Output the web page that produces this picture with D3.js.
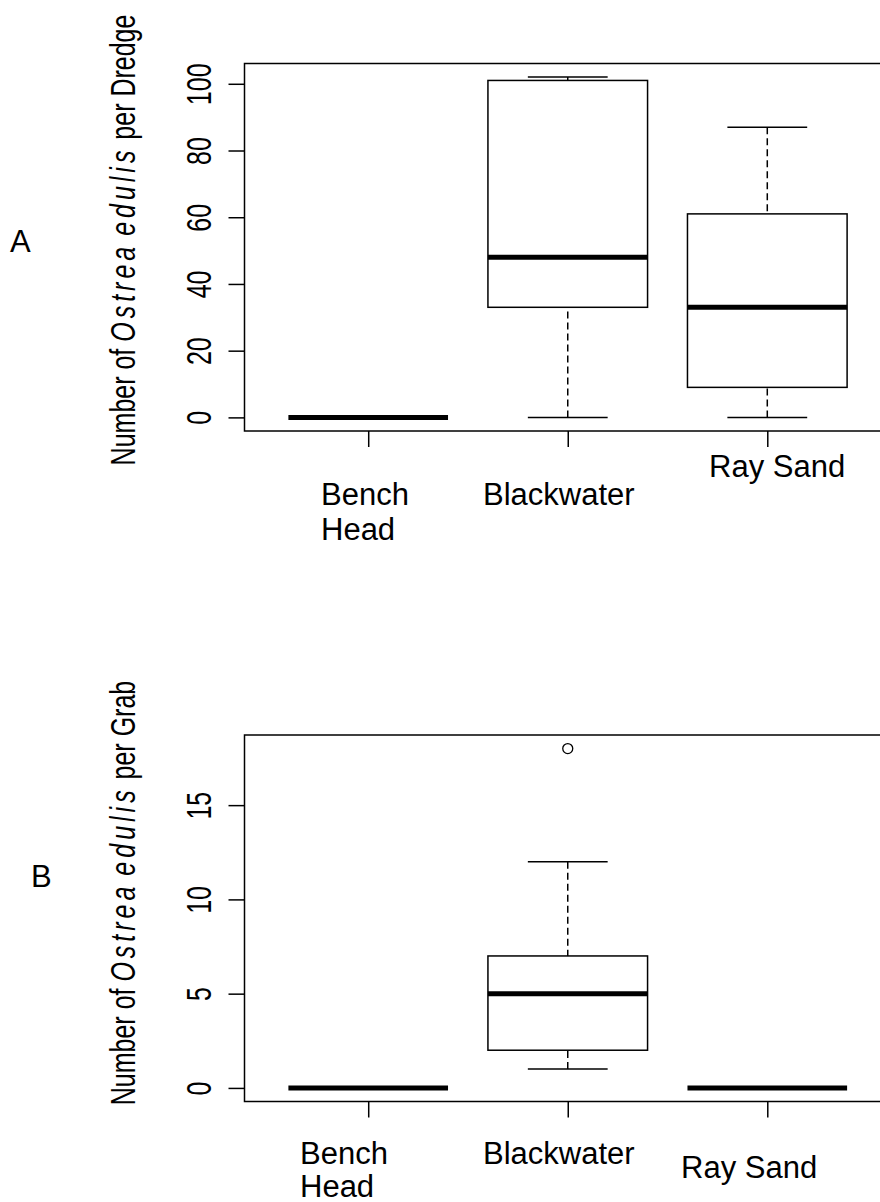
<!DOCTYPE html>
<html>
<head>
<meta charset="utf-8">
<script src="https://cdn.jsdelivr.net/npm/d3@7/dist/d3.min.js"></script>
<style>
    body { margin: 0; background: #fff; }
    svg text { font-family: "Liberation Sans", Arial, sans-serif; fill: #000; }
</style>
</head>
<body>
<div id="chart"></div>
<script>
// Sitios (categorías del eje x)
var sites = ["Bench Head", "Blackwater", "Ray Sand"];
var siteLines = [["Bench", "Head"], ["Blackwater"], ["Ray Sand"]];

// Panel A: ostras por draga (estadísticos del boxplot)
var dredgeLow = [0, 0, 0];
var dredgeQ1 = [0, 33, 9];
var dredgeMedian = [0, 48, 33];
var dredgeQ3 = [0, 101, 61];
var dredgeHigh = [0, 102, 87];
var dredgeOutliers = [[], [], []];
var dredgeTicks = [0, 20, 40, 60, 80, 100];

// Panel B: ostras por muestra (grab)
var grabLow = [0, 1, 0];
var grabQ1 = [0, 2, 0];
var grabMedian = [0, 5, 0];
var grabQ3 = [0, 7, 0];
var grabHigh = [0, 12, 0];
var grabOutliers = [[], [18], []];
var grabTicks = [0, 5, 10, 15];

var svgWidth = 880;
var svgHeight = 1202;

var plotLeft = 244.5;
var plotRight = 891;

var svg = d3.select("#chart")
    .append("svg")
    .attr("width", svgWidth)
    .attr("height", svgHeight);

svg.append("rect")
    .attr("width", svgWidth)
    .attr("height", svgHeight)
    .attr("fill", "#fff");

var xScale = d3.scaleLinear()
    .domain([0.38, 3.62])
    .range([plotLeft, plotRight]);

function drawPanel(p) {
    var g = svg.append("g");

    // escala y como R: rango de los datos +/- 4%
    var all = d3.merge([p.low, p.high, d3.merge(p.outliers)]);
    var lo = d3.min(all), hi = d3.max(all);
    var pad = (hi - lo) * 0.04;
    var yScale = d3.scaleLinear()
        .domain([lo - pad, hi + pad])
        .range([p.bottom, p.top]);

    var halfBox = xScale(0.4) - xScale(0);
    var halfStaple = xScale(0.2) - xScale(0);

    var boxes = g.selectAll(".box")
        .data(sites)
        .enter()
        .append("g")
        .attr("class", "box");

    // bigotes punteados (desde el extremo hacia la caja)
    boxes.append("line")
        .attr("x1", (d, i) => xScale(i + 1))
        .attr("x2", (d, i) => xScale(i + 1))
        .attr("y1", (d, i) => yScale(p.low[i]))
        .attr("y2", (d, i) => yScale(p.q1[i]))
        .attr("stroke", "#000")
        .attr("stroke-width", 1.5)
        .attr("stroke-dasharray", "7,4");

    boxes.append("line")
        .attr("x1", (d, i) => xScale(i + 1))
        .attr("x2", (d, i) => xScale(i + 1))
        .attr("y1", (d, i) => yScale(p.high[i]))
        .attr("y2", (d, i) => yScale(p.q3[i]))
        .attr("stroke", "#000")
        .attr("stroke-width", 1.5)
        .attr("stroke-dasharray", "7,4");

    // topes de los bigotes
    [p.low, p.high].forEach(function(arr) {
        boxes.append("line")
            .attr("x1", (d, i) => xScale(i + 1) - halfStaple)
            .attr("x2", (d, i) => xScale(i + 1) + halfStaple)
            .attr("y1", (d, i) => yScale(arr[i]))
            .attr("y2", (d, i) => yScale(arr[i]))
            .attr("stroke", "#000")
            .attr("stroke-width", 1.5);
    });

    // cajas
    boxes.append("rect")
        .attr("x", (d, i) => xScale(i + 1) - halfBox)
        .attr("width", halfBox * 2)
        .attr("y", (d, i) => yScale(p.q3[i]))
        .attr("height", (d, i) => yScale(p.q1[i]) - yScale(p.q3[i]))
        .attr("fill", "none")
        .attr("stroke", "#000")
        .attr("stroke-width", 1.5);

    // medianas
    boxes.append("line")
        .attr("x1", (d, i) => xScale(i + 1) - halfBox)
        .attr("x2", (d, i) => xScale(i + 1) + halfBox)
        .attr("y1", (d, i) => yScale(p.median[i]))
        .attr("y2", (d, i) => yScale(p.median[i]))
        .attr("stroke", "#000")
        .attr("stroke-width", 5);

    // atípicos
    p.outliers.forEach(function(vals, i) {
        g.selectAll(null)
            .data(vals)
            .enter()
            .append("circle")
            .attr("cx", xScale(i + 1))
            .attr("cy", d => yScale(d))
            .attr("r", 5)
            .attr("fill", "none")
            .attr("stroke", "#000")
            .attr("stroke-width", 1.3);
    });

    // marco
    g.append("rect")
        .attr("x", plotLeft)
        .attr("y", p.top)
        .attr("width", plotRight - plotLeft)
        .attr("height", p.bottom - p.top)
        .attr("fill", "none")
        .attr("stroke", "#000")
        .attr("stroke-width", 1.5);

    // eje y
    var yAxis = g.append("g")
        .attr("transform", `translate(${plotLeft}, 0)`)
        .call(d3.axisLeft(yScale).tickValues(p.ticks).tickSize(16).tickSizeOuter(0));
    yAxis.select(".domain").remove();
    yAxis.selectAll("line").attr("stroke-width", 1.5);
    yAxis.attr("font-size", 25).attr("font-family", null);
    yAxis.selectAll("text")
        .attr("x", null)
        .attr("dy", null)
        .attr("text-anchor", "middle")
        .attr("transform", "translate(-34, 0) rotate(-90) scale(1, 1.38)");

    // eje x
    var xAxis = g.append("g")
        .attr("transform", `translate(0, ${p.bottom})`)
        .call(d3.axisBottom(xScale).tickValues([1, 2, 3]).tickSize(16).tickSizeOuter(0).tickFormat(""));
    xAxis.select(".domain").remove();
    xAxis.selectAll("line").attr("stroke-width", 1.5);

    // etiquetas de los sitios
    siteLines.forEach(function(lines, i) {
        var t = g.append("text")
            .attr("x", p.labelPos[i][0])
            .attr("y", p.labelPos[i][1])
            .attr("font-size", 31);
        lines.forEach(function(line, j) {
            t.append("tspan")
                .attr("x", p.labelPos[i][0])
                .attr("dy", j === 0 ? 0 : p.lineGap)
                .text(line);
        });
    });

    // título del eje y
    var title = g.append("text")
        .attr("text-anchor", "middle")
        .attr("font-size", 25)
        .attr("transform", `translate(135, ${p.titleMid}) rotate(-90) scale(1, 1.38)`);
    title.append("tspan").text("Number of ");
    title.append("tspan").attr("font-style", "italic").attr("letter-spacing", 4).text("Ostrea");
    title.append("tspan").text(" ");
    title.append("tspan").attr("font-style", "italic").attr("letter-spacing", 4).text("edulis");
    title.append("tspan").text(" per " + p.unit);

    // letra del panel
    svg.append("text")
        .attr("x", p.letterPos[0])
        .attr("y", p.letterPos[1])
        .attr("font-size", 31)
        .text(p.letter);
}

drawPanel({
    letter: "A",
    unit: "Dredge",
    top: 63.5,
    bottom: 431,
    low: dredgeLow, q1: dredgeQ1, median: dredgeMedian, q3: dredgeQ3, high: dredgeHigh,
    outliers: dredgeOutliers,
    ticks: dredgeTicks,
    titleMid: 240,
    letterPos: [10, 252],
    lineGap: 35,
    labelPos: [[321, 505], [483, 505], [709, 477]]
});

drawPanel({
    letter: "B",
    unit: "Grab",
    top: 735,
    bottom: 1101.5,
    low: grabLow, q1: grabQ1, median: grabMedian, q3: grabQ3, high: grabHigh,
    outliers: grabOutliers,
    ticks: grabTicks,
    titleMid: 893,
    letterPos: [31, 887],
    lineGap: 33,
    labelPos: [[300, 1164], [483, 1164], [681, 1178]]
});
</script>
</body>
</html>
